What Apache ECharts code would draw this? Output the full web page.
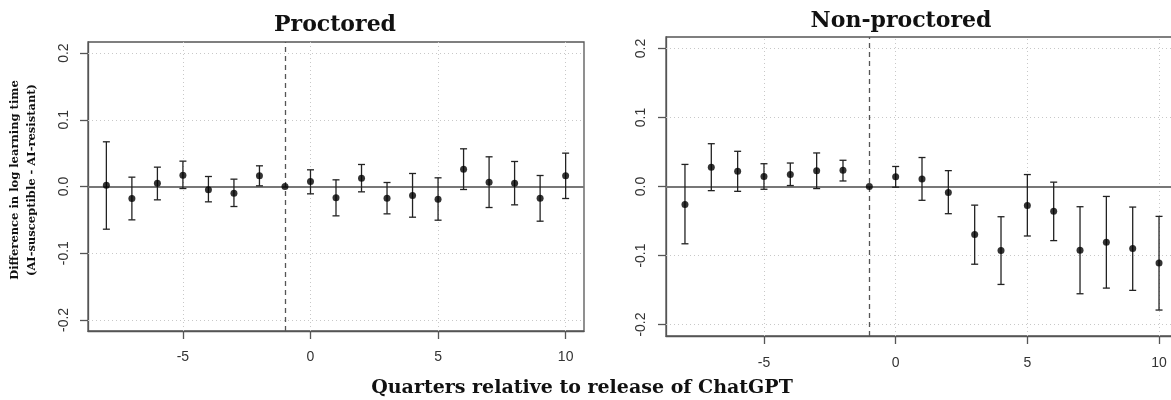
<!DOCTYPE html>
<html>
<head>
<meta charset="utf-8">
<script src="https://cdn.jsdelivr.net/npm/echarts@6/dist/echarts.min.js"></script>
<style>
html,body{margin:0;padding:0;background:#fff;}
#chart{width:1171px;height:400px;}
</style>
</head>
<body>
<div id="chart"></div>
<script>
// ---- data ----
var quarters = [-8,-7,-6,-5,-4,-3,-2,-1,0,1,2,3,4,5,6,7,8,9,10];
var procEst = [0.002,-0.018,0.005,0.017,-0.005,-0.010,0.016,0,0.0075,-0.017,0.0125,-0.0175,-0.0135,-0.019,0.026,0.0065,0.005,-0.0175,0.016];
var procLo  = [-0.064,-0.050,-0.020,-0.003,-0.023,-0.030,0.001,null,-0.011,-0.044,-0.008,-0.041,-0.046,-0.0505,-0.0045,-0.0315,-0.0275,-0.052,-0.018];
var procHi  = [0.067,0.014,0.029,0.038,0.015,0.011,0.031,null,0.025,0.010,0.033,0.006,0.0195,0.013,0.0565,0.0445,0.0375,0.0165,0.050];
var nonEst  = [-0.026,0.028,0.022,0.0144,0.0173,0.023,0.0235,0,0.014,0.011,-0.0087,-0.0697,-0.0928,-0.0274,-0.036,-0.0924,-0.0808,-0.0899,-0.111];
var nonLo   = [-0.083,-0.006,-0.007,-0.004,0.0014,-0.003,0.008,null,-0.001,-0.020,-0.0394,-0.1126,-0.1419,-0.0717,-0.0784,-0.1554,-0.1472,-0.1505,-0.179];
var nonHi   = [0.032,0.062,0.051,0.033,0.034,0.0486,0.038,null,0.029,0.042,0.023,-0.027,-0.0438,0.0173,0.0063,-0.0293,-0.0144,-0.0298,-0.0433];
var xTicks = [-5,0,5,10];
var yTicks = [-0.2,-0.1,0,0.1,0.2];
var refQuarter = -1;
var titles = ['Proctored','Non-proctored'];
var xLabel = 'Quarters relative to release of ChatGPT';
var yLabel1 = 'Difference in log learning time';
var yLabel2 = '(AI-susceptible - AI-resistant)';

// ---- build ----
var serifBold = '"DejaVu Serif", serif';
var sans = '"Liberation Sans", Arial, sans-serif';

function pts(est){ return quarters.map(function(q,i){ return [q, est[i]]; }); }
function bars(lo,hi){
  var out=[];
  quarters.forEach(function(q,i){ if(lo[i]!==null && hi[i]!==null) out.push([q, lo[i], hi[i]]); });
  return out;
}
function renderErr(params, api){
  var x = api.value(0);
  var p1 = api.coord([x, api.value(1)]);
  var p2 = api.coord([x, api.value(2)]);
  var w = 3.5;
  var st = {stroke:'#222', lineWidth:1.3};
  return {type:'group', children:[
    {type:'line', shape:{x1:p1[0],y1:p1[1],x2:p2[0],y2:p2[1]}, style:st},
    {type:'line', shape:{x1:p1[0]-w,y1:p1[1],x2:p1[0]+w,y2:p1[1]}, style:st},
    {type:'line', shape:{x1:p2[0]-w,y1:p2[1],x2:p2[0]+w,y2:p2[1]}, style:st}
  ]};
}
function xAxisCfg(gi, margin){
  return {type:'value', gridIndex:gi, min:-8.72, max:10.72,
    axisLine:{show:true, onZero:false, lineStyle:{color:'#555', width:1.3}},
    axisTick:{show:true, inside:false, length:8, customValues:xTicks, lineStyle:{color:'#555', width:1.3}},
    axisLabel:{customValues:xTicks, margin:margin, fontSize:14, color:'#333', fontFamily:sans},
    splitLine:{show:false}};
}
function yAxisCfg(gi, margin){
  return {type:'value', gridIndex:gi, min:-0.2166, max:0.2166,
    axisLine:{show:true, onZero:false, lineStyle:{color:'#555', width:1.3}},
    axisTick:{show:true, inside:false, length:8, customValues:yTicks, lineStyle:{color:'#555', width:1.3}},
    axisLabel:{customValues:yTicks, rotate:90, margin:margin, fontSize:14, color:'#333', fontFamily:sans,
      formatter:function(v){ return (Math.abs(v)<1e-9)?'0.0':(+v).toFixed(1); }},
    splitLine:{show:false}};
}
function gridLines(gi){
  var d=[];
  xTicks.forEach(function(v){ d.push({xAxis:v}); });
  yTicks.forEach(function(v){ d.push({yAxis:v}); });
  return {type:'scatter', xAxisIndex:gi, yAxisIndex:gi, data:[], z:1, silent:true,
    markLine:{z:1, silent:true, symbol:['none','none'], label:{show:false},
      lineStyle:{color:'#c8c8c8', type:[1,3], width:1}, data:d, animation:false}};
}
function refLines(gi){
  return {type:'scatter', xAxisIndex:gi, yAxisIndex:gi, data:[], z:2, silent:true,
    markLine:{z:2, silent:true, symbol:['none','none'], label:{show:false}, animation:false,
      data:[
        {yAxis:0, lineStyle:{color:'#777', type:'solid', width:1.8}},
        {xAxis:refQuarter, lineStyle:{color:'#555', type:[5,4], width:1.3}}
      ]}};
}
function errSeries(gi, lo, hi){
  return {type:'custom', xAxisIndex:gi, yAxisIndex:gi, z:10, renderItem:renderErr,
    encode:{x:0, y:[1,2]}, data:bars(lo,hi), animation:false};
}
function ptSeries(gi, est){
  return {type:'scatter', xAxisIndex:gi, yAxisIndex:gi, z:11, symbol:'circle', symbolSize:7,
    itemStyle:{color:'#000'}, data:pts(est), animation:false};
}

var chart = echarts.init(document.getElementById('chart'), null, {renderer:'canvas'});
chart.setOption({
  backgroundColor:'#fff',
  animation:false,
  grid:[
    {left:88, top:42, width:496, height:289, show:true, borderColor:'#555', borderWidth:1.3, backgroundColor:'transparent', outerBoundsMode:'none', containLabel:false},
    {left:666, top:37, width:512, height:299, show:true, borderColor:'#555', borderWidth:1.3, backgroundColor:'transparent', outerBoundsMode:'none', containLabel:false}
  ],
  xAxis:[xAxisCfg(0,19), xAxisCfg(1,20)],
  yAxis:[yAxisCfg(0,17), yAxisCfg(1,18)],
  series:[
    gridLines(0), refLines(0), errSeries(0, procLo, procHi), ptSeries(0, procEst),
    gridLines(1), refLines(1), errSeries(1, nonLo, nonHi), ptSeries(1, nonEst)
  ],
  graphic:[
    {type:'text', x:335, y:25, style:{text:titles[0], font:'bold 22px '+serifBold, fill:'#111', align:'center', verticalAlign:'middle'}},
    {type:'text', x:901, y:21, style:{text:titles[1], font:'bold 22px '+serifBold, fill:'#111', align:'center', verticalAlign:'middle'}},
    {type:'text', x:582, y:388, style:{text:xLabel, font:'bold 19px '+serifBold, fill:'#111', align:'center', verticalAlign:'middle'}},
    {type:'text', x:15, y:180, rotation:Math.PI/2, style:{text:yLabel1, font:'bold 11.5px '+serifBold, fill:'#111', align:'center', verticalAlign:'middle'}},
    {type:'text', x:32, y:180, rotation:Math.PI/2, style:{text:yLabel2, font:'bold 11.5px '+serifBold, fill:'#111', align:'center', verticalAlign:'middle'}}
  ]
});
</script>
</body>
</html>
